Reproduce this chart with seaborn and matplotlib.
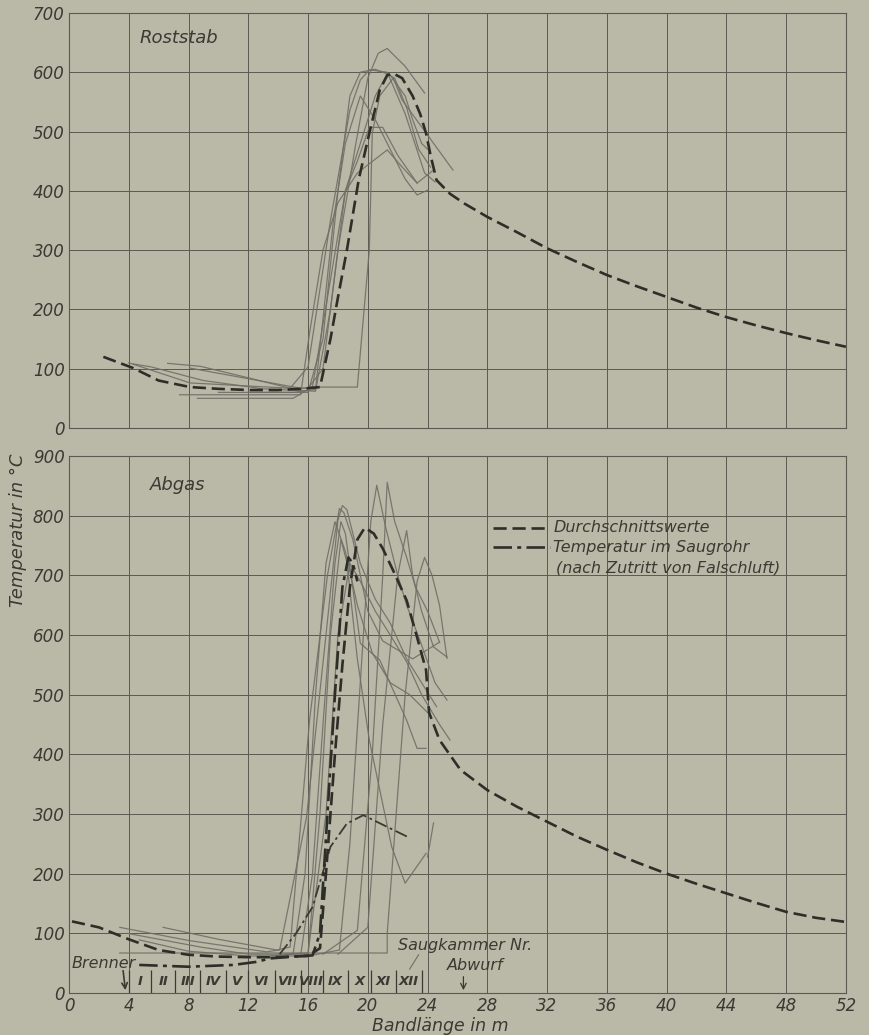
import matplotlib
matplotlib.use("Agg")
import matplotlib.pyplot as plt
import pandas as pd
import seaborn as sns

# colours of the old print
BG = "#bab9a8"
INK = "#3a3a33"
GRID = "#5a5a51"
THIN = "#706f66"

# ---------------- Roststab (upper panel) ----------------
rost_avg_x = [2.3, 4.3, 6, 8.1, 10, 12.1, 14, 15.5, 16.8, 17.5, 18.0, 18.6, 19.4, 20.1, 20.8,
              21.3, 21.7, 22.3, 23.0, 23.5, 23.9, 24.2, 24.6, 25.5, 26.5, 28, 30, 32, 34, 36,
              38, 40, 42, 44, 46, 48, 50, 52]
rost_avg_y = [120, 101, 80, 69, 66, 64, 64, 66, 69, 150, 220, 300, 420, 497, 570,
              595, 598, 590, 560, 530, 497, 460, 418, 395, 378, 356, 330, 303, 280, 258,
              239, 221, 203, 187, 173, 160, 148, 137]

r1_x = [4.0, 8.1, 14.8, 16.0, 17.0, 18.0, 19.2, 20.0, 20.7, 21.3, 22.5, 23.8]
r1_y = [110, 76, 67, 67, 100, 300, 480, 590, 632, 640, 610, 565]
r2_x = [6.6, 8.8, 12.1, 14.8, 16.0, 17.5, 18.8, 19.5, 20.1, 21.3, 22.5, 23.8, 24.5]
r2_y = [109, 104, 84, 67, 103, 350, 536, 587, 604, 600, 530, 430, 415]
r3_x = [8.1, 15.5, 16.6, 19.3, 20.1, 20.3, 20.8, 21.7, 22.3, 25.7]
r3_y = [101, 67, 69, 69, 300, 497, 560, 590, 553, 435]
r4_x = [7.4, 15.5, 16.1, 17.0, 18.0, 19.3, 21.3, 22.3, 23.3]
r4_y = [56, 56, 160, 300, 380, 430, 469, 440, 413]
r5_x = [8.6, 15.0, 16.3, 17.5, 18.5, 19.3, 20.1, 21.0, 22.0, 23.3, 24.4]
r5_y = [50, 50, 70, 250, 400, 450, 507, 507, 460, 413, 435]
r6_x = [10, 15, 16.5, 17.7, 18.5, 19.5, 20.5, 21.5, 22.5, 23.3, 24.0]
r6_y = [60, 60, 65, 351, 480, 560, 520, 470, 420, 393, 401]
r7_x = [4.3, 5.5, 9, 13, 16.5, 17.5, 18.5, 19.5, 20.5, 21.3, 21.8, 22.6, 23.4, 24.2]
r7_y = [108, 103, 80, 66, 62, 200, 400, 480, 560, 597, 590, 540, 470, 440]
r8_x = [12, 16, 17, 18.0, 18.8, 19.5, 20.5, 21.5, 22.5, 23.0, 23.6, 24.0]
r8_y = [60, 60, 150, 400, 560, 600, 605, 595, 560, 520, 480, 470]

# ---------------- Abgas (lower panel) ----------------
abgas_avg_x = [0.2, 2, 4, 6, 8, 10, 12, 14, 16, 16.8, 17.2, 17.8, 18.3, 18.8, 19.3, 19.8,
               20.4, 21, 21.7, 22.6, 23.3, 23.9, 24.1, 24.8, 26.2, 28, 30, 32, 34, 36, 38,
               40, 42, 44, 46, 48, 50, 52]
abgas_avg_y = [120, 110, 90, 72, 64, 61, 60, 60, 62, 75, 200, 400, 550, 680, 760, 780,
               770, 745, 708, 658, 596, 541, 470, 424, 374, 340, 312, 287, 262, 240, 219,
               200, 183, 167, 151, 136, 126, 119]

saug_x = [4.7, 8, 11, 12.5, 13.5, 15, 16.3, 16.8, 17.3, 17.8, 18.3, 18.7, 19.0, 19.3]
saug_y = [47, 44, 47, 52, 58, 61, 63, 100, 300, 500, 680, 730, 720, 690]
saug2_x = [14.1, 15.2, 16.3, 17.5, 18.6, 19.7, 22.8]
saug2_y = [65, 100, 144, 245, 284, 298, 260]

a1_x = [3.4, 8, 13.2, 14.1, 15.9, 17.2, 18.0, 18.3, 18.6, 19.5, 20.5, 21.5, 22.6, 23.6, 24.6]
a1_y = [110, 88, 69, 72, 295, 600, 792, 817, 810, 720, 660, 620, 560, 520, 480]
a2_x = [6.3, 10, 13.9, 14.8, 16.1, 17.3, 18.1, 18.4, 19.0, 20.0, 21.0, 23.0, 24.8]
a2_y = [110, 90, 72, 77, 457, 700, 812, 805, 760, 640, 590, 560, 588]
a3_x = [4.7, 8, 12, 15.5, 16.3, 17.0, 17.8, 18.2, 18.5, 19.5, 20.8, 22.6, 23.3, 23.9]
a3_y = [89, 70, 62, 62, 200, 450, 720, 790, 770, 586, 558, 457, 410, 410]
a4_x = [3.9, 8.8, 12, 16, 16.8, 17.5, 18.2, 18.6, 19.3, 20.1, 21.6, 22.5, 23.9]
a4_y = [100, 77, 65, 65, 300, 600, 760, 722, 560, 424, 245, 184, 234]
a5_x = [16, 18.1, 18.8, 19.6, 20.2, 20.6, 21.2, 22.0, 22.6, 23.5, 24.5, 25.3]
a5_y = [62, 72, 250, 560, 790, 851, 780, 700, 650, 590, 520, 491]
a6_x = [17, 19.3, 20.3, 21.0, 21.3, 21.8, 22.6, 23.2, 24.0, 24.8]
a6_y = [65, 105, 400, 700, 856, 790, 730, 680, 640, 588]
a7_x = [18, 20.0, 21.0, 22.0, 22.6, 23.0, 23.6, 24.4, 25.3]
a7_y = [65, 110, 450, 700, 775, 700, 640, 580, 563]
a8_x = [3.4, 21.3, 21.3, 22.5, 23.3, 23.8, 24.3, 24.8, 25.3]
a8_y = [67, 67, 100, 500, 690, 730, 700, 650, 561]
a9_x = [14.5, 16.0, 17.2, 18.0, 18.8, 19.5, 20.5, 21.5, 22.6, 23.6, 24.8, 25.5]
a9_y = [65, 67, 300, 600, 720, 690, 640, 600, 555, 500, 450, 424]
a10_x = [13.5, 15, 15.8, 16.5, 17.2, 17.8, 18.5, 19.3, 20.3, 21.5, 22.8, 24.0]
a10_y = [62, 65, 200, 500, 720, 790, 740, 650, 570, 520, 500, 470]
a11_x = [24.0, 24.4]
a11_y = [228, 285]

# suction chambers along the band
kammer_edges = [4.0, 5.5, 7.1, 8.8, 10.5, 12.0, 13.8, 15.5, 17.0, 18.7, 20.2, 21.9, 23.6]
kammer_names = ["I", "II", "III", "IV", "V", "VI", "VII", "VIII", "IX", "X", "XI", "XII"]

x_ticks = list(range(0, 53, 4))


def runs_frame(runs):
    rows = []
    for i, (xs, ys) in enumerate(runs):
        for xv, yv in zip(xs, ys):
            rows.append({"run": i, "x": xv, "y": yv})
    return pd.DataFrame(rows)


plt.rcParams.update({
    "font.family": ["DejaVu Sans"],
    "font.style": "italic",
    "text.color": INK,
    "axes.edgecolor": GRID,
    "xtick.color": INK,
    "ytick.color": INK,
})

fig = plt.figure(figsize=(8.7, 10.35), dpi=100, facecolor=BG)
ax_top = fig.add_axes([0.0793, 0.5865, 0.893, 0.401])
ax_bot = fig.add_axes([0.0793, 0.0406, 0.893, 0.5188])

dash_avg = (0, (5, 2.2))
dash_dot = (0, (7, 2, 1.5, 2))

# upper panel
top_runs = runs_frame([(r1_x, r1_y), (r2_x, r2_y), (r3_x, r3_y), (r4_x, r4_y),
                       (r5_x, r5_y), (r6_x, r6_y), (r7_x, r7_y), (r8_x, r8_y)])
sns.lineplot(data=top_runs, x="x", y="y", units="run", estimator=None, sort=False,
             color=THIN, lw=0.9, alpha=0.9, legend=False, ax=ax_top)
sns.lineplot(x=rost_avg_x, y=rost_avg_y, sort=False, estimator=None, color="#2e2e28",
             lw=1.9, linestyle=dash_avg, ax=ax_top)

# lower panel
bot_runs = runs_frame([(a1_x, a1_y), (a2_x, a2_y), (a3_x, a3_y), (a4_x, a4_y),
                       (a5_x, a5_y), (a6_x, a6_y), (a7_x, a7_y), (a8_x, a8_y),
                       (a9_x, a9_y), (a10_x, a10_y), (a11_x, a11_y)])
sns.lineplot(data=bot_runs, x="x", y="y", units="run", estimator=None, sort=False,
             color=THIN, lw=0.9, alpha=0.9, legend=False, ax=ax_bot)
sns.lineplot(x=saug2_x, y=saug2_y, sort=False, estimator=None, color="#3a3a33",
             lw=1.3, linestyle=dash_dot, ax=ax_bot)
sns.lineplot(x=saug_x, y=saug_y, sort=False, estimator=None, color="#2e2e28",
             lw=1.9, linestyle=dash_dot, ax=ax_bot)
sns.lineplot(x=abgas_avg_x, y=abgas_avg_y, sort=False, estimator=None, color="#2e2e28",
             lw=1.9, linestyle=dash_avg, ax=ax_bot)

for ax, ymax in ((ax_top, 700), (ax_bot, 900)):
    ax.set_facecolor(BG)
    ax.set_xlim(0, 52)
    ax.set_ylim(0, ymax)
    ax.set_xticks(x_ticks)
    ax.set_yticks(range(0, ymax + 1, 100))
    ax.grid(True, color=GRID, lw=0.7)
    ax.set_axisbelow(True)
    for s in ax.spines.values():
        s.set_linewidth(0.8)
    ax.tick_params(length=0, pad=3, labelsize=12)
    ax.set_xlabel("")
    ax.set_ylabel("")

ax_top.tick_params(labelbottom=False)

ax_top.text(4.7, 658, "Roststab", fontsize=13, va="center")
ax_bot.text(5.4, 851, "Abgas", fontsize=13, va="center")

# legend drawn by hand, as in the print
ax_bot.plot([28.4, 32.2], [780, 780], color="#2e2e28", lw=1.9, linestyle=dash_avg)
ax_bot.plot([28.4, 32.2], [747, 747], color="#2e2e28", lw=1.9, linestyle=dash_dot)
ax_bot.text(32.4, 780, "Durchschnittswerte", fontsize=11.5, va="center")
ax_bot.text(32.4, 747, "Temperatur im Saugrohr", fontsize=11.5, va="center")
ax_bot.text(32.6, 713, "(nach Zutritt von Falschluft)", fontsize=11.5, va="center")

# suction chambers
ax_bot.vlines(kammer_edges, 0, 38, color=INK, lw=0.9)
for left, right, name in zip(kammer_edges[:-1], kammer_edges[1:], kammer_names):
    ax_bot.text((left + right) / 2, 19, name, fontsize=9.5, ha="center", va="center",
                fontweight="bold")
ax_bot.text(22.0, 80, "Saugkammer Nr.", fontsize=11.5, va="center")
ax_bot.plot([23.4, 22.8], [64, 40], color=THIN, lw=0.8)
ax_bot.text(27.2, 46, "Abwurf", fontsize=11.5, ha="center", va="center")
ax_bot.annotate("", xy=(26.4, 0), xytext=(26.4, 32),
                arrowprops=dict(arrowstyle="->", color=INK, lw=0.9))
ax_bot.text(0.2, 50, "Brenner", fontsize=11.5, va="center")
ax_bot.annotate("", xy=(3.8, 0), xytext=(3.6, 42),
                arrowprops=dict(arrowstyle="->", color=INK, lw=1.2))

fig.text(18 / 870, 1 - 530 / 1035, "Temperatur in °C", rotation=90, fontsize=13,
         ha="center", va="center")
fig.text(440 / 870, 1 - 1026 / 1035, "Bandlänge in m", fontsize=12.5,
         ha="center", va="center")

fig.savefig("out.png", dpi=100, facecolor=BG)
